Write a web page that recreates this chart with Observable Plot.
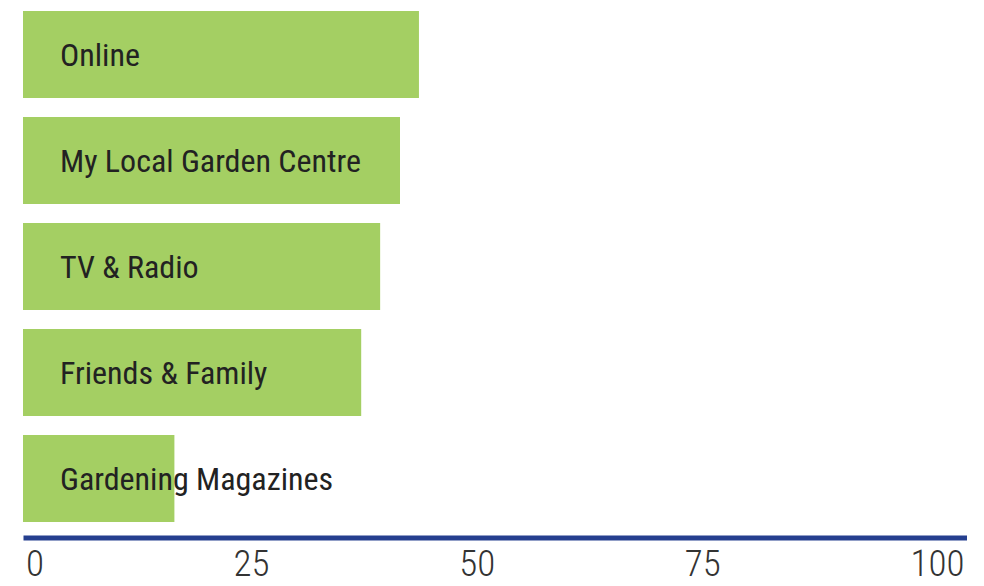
<!DOCTYPE html>
<html>
<head>
<meta charset="utf-8">
<script src="https://cdn.jsdelivr.net/npm/d3@7"></script>
<script src="https://cdn.jsdelivr.net/npm/@observablehq/plot@0.6"></script>
<style>
  html, body { margin: 0; padding: 0; background: #fff; }
  #chart svg { display: block; }
</style>
</head>
<body>
<div id="chart"></div>
<script>
const categories = ["Online", "My Local Garden Centre", "TV & Radio", "Friends & Family", "Gardening Magazines"];
const values = [43.6, 41.5, 39.3, 37.2, 16.5];
const tickValues = [0, 25, 50, 75, 100];

const data = categories.map((c, i) => ({category: c, value: values[i]}));

const green = "#a4cf63";
const blue = "#253f8f";
const fontFam = "'Roboto Condensed', 'Liberation Sans Narrow', Roboto, sans-serif";

const chart = Plot.plot({
  width: 984,
  height: 586,
  marginLeft: 25.5,
  marginRight: 20,
  marginTop: 10,
  marginBottom: 64,
  style: {fontFamily: fontFam, background: "#fff"},
  x: {domain: [0, 104], axis: null},
  y: {domain: categories, axis: null, paddingInner: 0.181, paddingOuter: 0},
  marks: [
    Plot.barX(data, {y: "category", x: "value", fill: green, insetLeft: -2.5}),
    Plot.text(data, {y: "category", x: 0, text: "category", textAnchor: "start", dx: 34, dy: 1, fontSize: 32, fill: "#222", fontFamily: fontFam}),
    Plot.frame({anchor: "bottom", stroke: blue, strokeWidth: 5, dy: 15.5}),
    Plot.text([tickValues[0]], {x: d => d, text: d => String(d), frameAnchor: "bottom", dy: 53, textAnchor: "start", fontSize: 37, fontWeight: 300, fill: "#333", fontFamily: fontFam}),
    Plot.text(tickValues.slice(1, 4), {x: d => d, text: d => String(d), frameAnchor: "bottom", dy: 53, textAnchor: "middle", fontSize: 37, fontWeight: 300, fill: "#333", fontFamily: fontFam}),
    Plot.text([tickValues[4]], {x: d => d, text: d => String(d), frameAnchor: "bottom", dy: 53, dx: 36, textAnchor: "end", fontSize: 37, fontWeight: 300, fill: "#333", fontFamily: fontFam})
  ]
});
document.getElementById("chart").appendChild(chart);
</script>
</body>
</html>
